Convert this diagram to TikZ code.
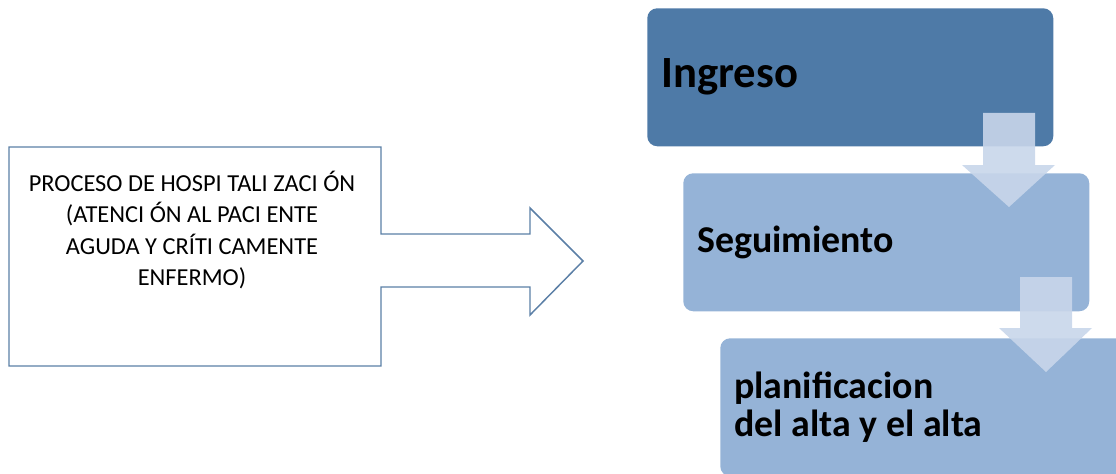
\documentclass[tikz,border=0pt]{standalone}
\usepackage{fontspec}
\setmainfont{Carlito}
\usetikzlibrary{positioning}
\definecolor{stagedark}{HTML}{4E7AA7}
\definecolor{stagelight}{HTML}{95B3D7}
\definecolor{flowarrow}{HTML}{C8D6EA}
\definecolor{calloutline}{HTML}{5B7FA6}

\tikzset{
  stage/.style={anchor=north west, rounded corners=7.5pt, minimum width=304.5pt,
    minimum height=103.5pt, inner xsep=10.5pt, text width=283.5pt, align=flush left,
    font=\fontsize{28.4}{29}\selectfont\bfseries},
  flow/.style={fill=flowarrow, opacity=0.9}
}

\begin{document}
\begin{tikzpicture}[x=0.75pt,y=-0.75pt]

        \useasboundingbox (0,0) rectangle (1116,474);

        % Callout
        \draw[calloutline, line width=1.1pt, line join=miter]
            (9,147) -- (381,147) -- (381,234) -- (530,234) -- (530,208)
            -- (583,261) -- (530,315) -- (530,287) -- (381,287)
            -- (381,366) -- (9,366) -- cycle;
        \node[align=center, font=\fontsize{18.3}{23.5}\selectfont] (proceso) at (192,230)
            {PROCESO DE HOSPI TALI ZACI ÓN\\(ATENCI ÓN AL PACI ENTE\\AGUDA Y CRÍTI CAMENTE\\ENFERMO)};

        % Stages
        \node[stage, fill=stagedark, font=\fontsize{33.5}{34}\selectfont\bfseries] (ingreso) at (647,8) {Ingreso};
        \node[stage, fill=stagelight] (seguimiento) at (683,173) {Seguimiento};
        \node[stage, fill=stagelight] (alta) at (720,338) {planificacion\\del alta y el alta};

        % Flow arrows
        \fill[flow] (983,113) -- (1035,113) -- (1035,165) -- (1055,165) -- (1009,207)
            -- (962,165) -- (983,165) -- cycle;
        \fill[flow] (1020,277) -- (1072,277) -- (1072,328) -- (1092,328) -- (1046,372)
            -- (999,328) -- (1020,328) -- cycle;

    \end{tikzpicture}
\end{document}
